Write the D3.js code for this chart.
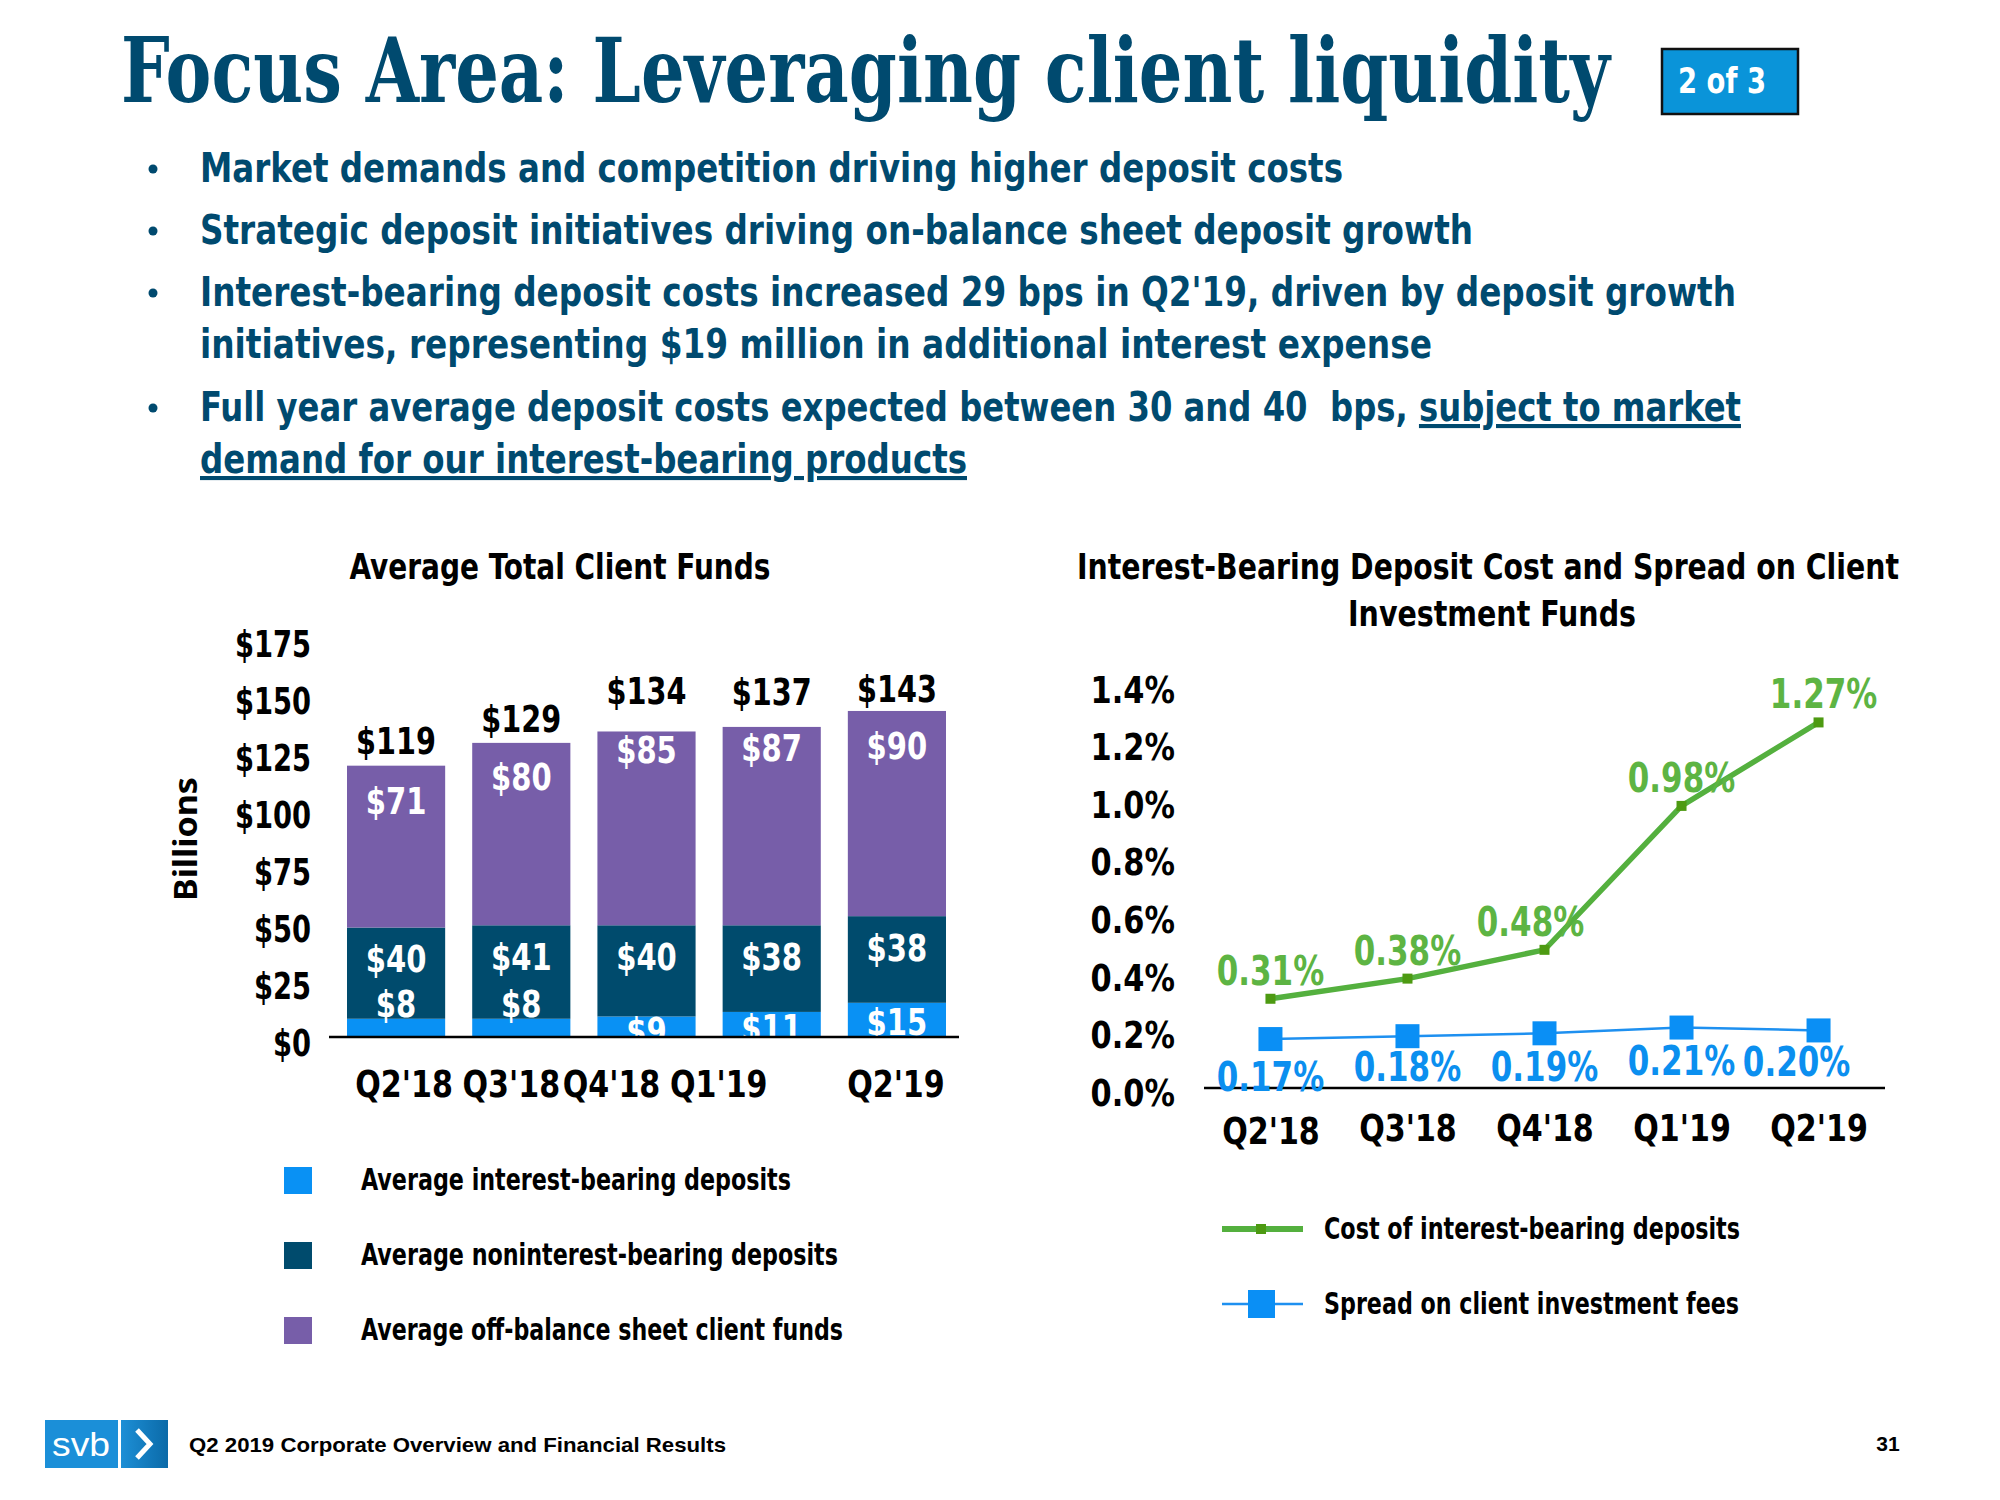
<!DOCTYPE html>
<html><head><meta charset="utf-8">
<script src="https://cdn.jsdelivr.net/npm/d3@7"></script>
<style>html,body{margin:0;padding:0;background:#fff;} svg{display:block}</style>
</head><body>
<svg id="c" width="2000" height="1500" xmlns="http://www.w3.org/2000/svg"></svg>
<script>
// ---------------- DATA ----------------
const quarters = ["Q2'18", "Q3'18", "Q4'18", "Q1'19", "Q2'19"];
const interestBearing = [8, 8, 9, 11, 15];
const nonInterestBearing = [40, 41, 40, 38, 38];
const offBalance = [71, 80, 85, 87, 90];
const totalFunds = [119, 129, 134, 137, 143];
const fundTicks = [0, 25, 50, 75, 100, 125, 150, 175];
const depositCost = [0.31, 0.38, 0.48, 0.98, 1.27];
const investmentSpread = [0.17, 0.18, 0.19, 0.21, 0.20];
const rateTicks = [0, 0.2, 0.4, 0.6, 0.8, 1.0, 1.2, 1.4];
const fundSeries = ["Average interest-bearing deposits", "Average noninterest-bearing deposits", "Average off-balance sheet client funds"];
const rateSeries = ["Cost of interest-bearing deposits", "Spread on client investment fees"];
const titleText = "Focus Area: Leveraging client liquidity";
const pageTag = "2 of 3";
const bulletLines = [
  [{t: "Market demands and competition driving higher deposit costs"}],
  [{t: "Strategic deposit initiatives driving on-balance sheet deposit growth"}],
  [{t: "Interest-bearing deposit costs increased 29 bps in Q2'19, driven by deposit growth"}],
  [{t: "initiatives, representing $19 million in additional interest expense"}],
  [{t: "Full year average deposit costs expected between 30 and 40  bps, "}, {t: "subject to market", u: true}],
  [{t: "demand for our interest-bearing products", u: true}]
];
const bulletStarts = [true, true, true, false, true, false];
const leftTitle = "Average Total Client Funds";
const rightTitle = ["Interest-Bearing Deposit Cost and Spread on Client", "Investment Funds"];
const yAxisTitle = "Billions";
const footerText = "Q2 2019 Corporate Overview and Financial Results";
const pageNumber = "31";

// ---------------- LAYOUT / STYLE ----------------
const svg = d3.select("#c");
const NAVY = "#004a6f";
const C_IB = "#0991f4", C_NIB = "#004b6d", C_OFF = "#775ea9";
const C_GREEN = "#54b03e", C_GREEN_MK = "#4d9a12", C_GREEN_TX = "#5db443";
const C_BLUE = "#1e90f0", C_BLUE_MK = "#0a8ff5", C_BLUE_TX = "#0b8fef";

function measure(family, stretch, txt) {
  const t = svg.append("text").attr("font-family", family).style("font-stretch", stretch)
    .attr("font-weight", "bold").attr("font-size", 100).text(txt);
  const l = t.node().getComputedTextLength(); t.remove(); return l;
}
const sample = "Market demands and competition 0123456789";
let COND;
if (measure("'Noto Sans'", "condensed", sample) < 0.9 * measure("'Noto Sans'", "normal", sample)) {
  COND = {family: "'Noto Sans', sans-serif", stretch: "condensed"};
} else if (measure("'Liberation Sans Narrow'", "normal", sample) < 0.9 * measure("'Liberation Sans'", "normal", sample)) {
  COND = {family: "'Liberation Sans Narrow', sans-serif", stretch: "normal"};
} else {
  COND = {family: "'DejaVu Sans', sans-serif", stretch: "condensed"};
}
function cond(sel, size) {
  return sel.attr("font-family", COND.family).style("font-stretch", COND.stretch)
    .attr("font-weight", "bold").attr("font-size", size);
}
// narrow the glyphs of short labels to the reference's proportions
function squeeze(sel, k) {
  sel.each(function () {
    const l = this.getComputedTextLength();
    d3.select(this).attr("textLength", l * k).attr("lengthAdjust", "spacingAndGlyphs");
  });
}

// ---------------- HEADER ----------------
svg.append("text").attr("x", 121).attr("y", 102)
  .attr("font-family", "'DejaVu Serif', serif").style("font-stretch", "condensed")
  .attr("font-weight", "bold").attr("font-size", 90).attr("fill", NAVY)
  .attr("textLength", 1489).attr("lengthAdjust", "spacingAndGlyphs").text(titleText);

svg.append("rect").attr("x", 1662).attr("y", 49).attr("width", 136).attr("height", 65)
  .attr("fill", "#0a94d9").attr("stroke", "#111").attr("stroke-width", 2.5);
cond(svg.append("text"), 36).attr("x", 1722).attr("y", 93).attr("text-anchor", "middle")
  .attr("fill", "#fff").attr("textLength", 88).attr("lengthAdjust", "spacingAndGlyphs").text(pageTag);

// bullets
const bulletY = [182, 244, 306, 358, 421, 473];
const bulletEnd = [1343, 1473, 1736, 1432, 1741, 967];
bulletLines.forEach((segs, i) => {
  if (bulletStarts[i]) {
    svg.append("circle").attr("cx", 153).attr("cy", bulletY[i] - 13).attr("r", 4.5).attr("fill", NAVY);
  }
  const t = cond(svg.append("text"), 41).attr("x", 200).attr("y", bulletY[i]).attr("fill", NAVY)
    .style("white-space", "pre")
    .attr("textLength", bulletEnd[i] - 200).attr("lengthAdjust", "spacingAndGlyphs");
  segs.forEach(s => {
    const ts = t.append("tspan").text(s.t);
    if (s.u) ts.style("text-decoration", "underline");
  });
});

// ---------------- LEFT CHART ----------------
const gL = svg.append("g");
cond(gL.append("text"), 36).attr("x", 560).attr("y", 579).attr("text-anchor", "middle").attr("fill", "#000")
  .attr("textLength", 421).attr("lengthAdjust", "spacingAndGlyphs").text(leftTitle);

const xB = d3.scaleBand().domain(quarters).range([347, 946]).paddingInner(0.216).paddingOuter(0);
const yB = d3.scaleLinear().domain([0, 175]).range([1037, 638]);

const stackData = quarters.map((q, i) => ({q, ib: interestBearing[i], nib: nonInterestBearing[i], off: offBalance[i]}));
const stacked = d3.stack().keys(["ib", "nib", "off"])(stackData);
const segColors = [C_IB, C_NIB, C_OFF];
gL.selectAll("g.layer").data(stacked).join("g").attr("class", "layer")
  .attr("fill", (d, i) => segColors[i])
  .selectAll("rect").data(d => d).join("rect")
  .attr("x", d => xB(d.data.q)).attr("width", xB.bandwidth())
  .attr("y", d => yB(d[1])).attr("height", d => yB(d[0]) - yB(d[1]));

// segment labels (offsets of label centre from segment top, px)
const segLabelOffset = [[-15, -15, 15, 16, 19], [31, 32, 32, 32, 32], [35, 34, 19, 21, 35]];
const segValues = [interestBearing, nonInterestBearing, offBalance];
stacked.forEach((layer, li) => {
  gL.selectAll(null).data(layer).join("text")
    .call(s => cond(s, 38))
    .attr("fill", "#fff").attr("text-anchor", "middle")
    .attr("x", d => xB(d.data.q) + xB.bandwidth() / 2)
    .attr("y", (d, i) => yB(d[1]) + segLabelOffset[li][i] + 13)
    .text((d, i) => "$" + segValues[li][i])
    .call(s => squeeze(s, 0.85));
});
// totals
const totalOffset = [-25, -24, -40, -33, -22];
gL.selectAll(null).data(totalFunds).join("text")
  .call(s => cond(s, 38))
  .attr("fill", "#000").attr("text-anchor", "middle")
  .attr("x", (d, i) => xB(quarters[i]) + xB.bandwidth() / 2)
  .attr("y", (d, i) => yB(d) + totalOffset[i] + 13)
  .text(d => "$" + d)
  .call(s => squeeze(s, 0.84));

// y axis labels
const axL = gL.append("g").attr("transform", "translate(311,6)")
  .call(d3.axisLeft(yB).tickValues(fundTicks).tickFormat(d => "$" + d).tickSize(0).tickPadding(0));
axL.select(".domain").remove();
axL.selectAll("text").call(s => cond(s, 38)).attr("fill", "#000").call(s => squeeze(s, 0.8));

// x axis
const xNudge = [8, -10, -35, -53, -1];
const axB = gL.append("g").attr("transform", "translate(0,1037)")
  .call(d3.axisBottom(xB).tickSize(0).tickPadding(33));
axB.select(".domain").remove();
axB.selectAll("text").call(s => cond(s, 38)).attr("fill", "#000")
  .attr("dx", (d, i) => xNudge[i]).call(s => squeeze(s, 0.88));
gL.append("line").attr("x1", 329).attr("x2", 959).attr("y1", 1037).attr("y2", 1037)
  .attr("stroke", "#000").attr("stroke-width", 2.5);

// Billions
gL.append("text").attr("transform", "translate(197,839) rotate(-90)").attr("text-anchor", "middle")
  .attr("font-family", "'Noto Sans', 'Liberation Sans', sans-serif").attr("font-weight", "bold")
  .attr("font-size", 32).attr("fill", "#000")
  .attr("textLength", 124).attr("lengthAdjust", "spacingAndGlyphs").text(yAxisTitle);

// left legend
const legColors = [C_IB, C_NIB, C_OFF];
const legY = [1180, 1255, 1330];
const legW = [430, 477, 482];
fundSeries.forEach((name, i) => {
  gL.append("rect").attr("x", 284).attr("y", legY[i] - 13).attr("width", 28).attr("height", 27).attr("fill", legColors[i]);
  cond(gL.append("text"), 30).attr("x", 361).attr("y", legY[i] + 10).attr("fill", "#000")
    .attr("textLength", legW[i]).attr("lengthAdjust", "spacingAndGlyphs").text(name);
});

// ---------------- RIGHT CHART ----------------
const gR = svg.append("g");
rightTitle.forEach((line, i) => {
  cond(gR.append("text"), 36).attr("x", i === 0 ? 1488 : 1492).attr("y", 579 + i * 47)
    .attr("text-anchor", "middle").attr("fill", "#000")
    .attr("textLength", i === 0 ? 822 : 288).attr("lengthAdjust", "spacingAndGlyphs").text(line);
});

const xR = d3.scalePoint().domain(quarters).range([1204, 1885]).padding(0.485);
const yR = d3.scaleLinear().domain([0, 1.4]).range([1088, 685]);

const axRL = gR.append("g").attr("transform", "translate(1175,5)")
  .call(d3.axisLeft(yR).tickValues(rateTicks).tickFormat(d => d3.format(".1f")(d) + "%").tickSize(0).tickPadding(0));
axRL.select(".domain").remove();
axRL.selectAll("text").call(s => cond(s, 38)).attr("fill", "#000").call(s => squeeze(s, 0.89));

const axRB = gR.append("g").attr("transform", "translate(0,1088)")
  .call(d3.axisBottom(xR).tickSize(0).tickPadding(18));
axRB.select(".domain").remove();
axRB.selectAll("text").call(s => cond(s, 38)).attr("fill", "#000")
  .attr("dy", (d, i) => i === 0 ? "1.0em" : "0.92em").call(s => squeeze(s, 0.88));

const line = d3.line().x((d, i) => xR(quarters[i])).y(d => yR(d));
gR.append("path").datum(investmentSpread).attr("d", line).attr("fill", "none")
  .attr("stroke", C_BLUE).attr("stroke-width", 2.5);
gR.append("path").datum(depositCost).attr("d", line).attr("fill", "none")
  .attr("stroke", C_GREEN).attr("stroke-width", 5.5);

gR.selectAll(null).data(investmentSpread).join("rect")
  .attr("x", (d, i) => xR(quarters[i]) - 12).attr("y", d => yR(d) - 12)
  .attr("width", 24).attr("height", 24).attr("fill", C_BLUE_MK);
gR.selectAll(null).data(depositCost).join("rect")
  .attr("x", (d, i) => xR(quarters[i]) - 5).attr("y", d => yR(d) - 5)
  .attr("width", 10).attr("height", 10).attr("fill", C_GREEN_MK);

gR.append("line").attr("x1", 1204).attr("x2", 1885).attr("y1", 1088).attr("y2", 1088)
  .attr("stroke", "#000").attr("stroke-width", 2.5);

const greenDx = [0, 0, -14, 0, 5];
gR.selectAll(null).data(depositCost).join("text").call(s => cond(s, 40))
  .attr("fill", C_GREEN_TX).attr("text-anchor", "middle")
  .attr("x", (d, i) => xR(quarters[i]) + greenDx[i]).attr("y", d => yR(d) - 28 + 14)
  .text(d => d3.format(".2f")(d) + "%").call(s => squeeze(s, 0.86));
const blueDx = [0, 0, 0, 0, -22];
const blueDy = [38, 31, 34, 33, 32];
gR.selectAll(null).data(investmentSpread).join("text").call(s => cond(s, 40))
  .attr("fill", C_BLUE_TX).attr("text-anchor", "middle")
  .attr("x", (d, i) => xR(quarters[i]) + blueDx[i]).attr("y", (d, i) => yR(d) + blueDy[i] + 14)
  .text(d => d3.format(".2f")(d) + "%").call(s => squeeze(s, 0.86));

// right legend
const rLegY = [1229, 1304];
const rLegW = [416, 415];
gR.append("line").attr("x1", 1222).attr("x2", 1303).attr("y1", rLegY[0]).attr("y2", rLegY[0])
  .attr("stroke", C_GREEN).attr("stroke-width", 6);
gR.append("rect").attr("x", 1256).attr("y", rLegY[0] - 5).attr("width", 10).attr("height", 10).attr("fill", C_GREEN_MK);
gR.append("line").attr("x1", 1222).attr("x2", 1303).attr("y1", rLegY[1]).attr("y2", rLegY[1])
  .attr("stroke", C_BLUE).attr("stroke-width", 2.5);
gR.append("rect").attr("x", 1248).attr("y", rLegY[1] - 14).attr("width", 27).attr("height", 28).attr("fill", C_BLUE_MK);
rateSeries.forEach((name, i) => {
  cond(gR.append("text"), 30).attr("x", 1324).attr("y", rLegY[i] + 10).attr("fill", "#000")
    .attr("textLength", rLegW[i]).attr("lengthAdjust", "spacingAndGlyphs").text(name);
});

// ---------------- FOOTER ----------------
const defs = svg.append("defs");
const grad = defs.append("linearGradient").attr("id", "lg").attr("x1", 0).attr("x2", 1);
grad.append("stop").attr("offset", 0).attr("stop-color", "#1d8fd6");
grad.append("stop").attr("offset", 1).attr("stop-color", "#0b6aa8");
svg.append("rect").attr("x", 45).attr("y", 1420).attr("width", 73).attr("height", 48).attr("fill", "#1b8fd8");
svg.append("rect").attr("x", 121).attr("y", 1420).attr("width", 47).attr("height", 48).attr("fill", "url(#lg)");
svg.append("text").attr("x", 81).attr("y", 1456).attr("text-anchor", "middle")
  .attr("font-family", "'Liberation Sans', sans-serif").attr("font-size", 33).attr("fill", "#fff")
  .attr("textLength", 58).attr("lengthAdjust", "spacingAndGlyphs").text("svb");
svg.append("path").attr("d", "M137,1430 L150,1444 L137,1458").attr("fill", "none")
  .attr("stroke", "#fff").attr("stroke-width", 5);
svg.append("text").attr("x", 189).attr("y", 1452)
  .attr("font-family", "'Liberation Sans', Arial, sans-serif").attr("font-weight", "bold").attr("font-size", 21)
  .attr("fill", "#000").attr("textLength", 537).attr("lengthAdjust", "spacingAndGlyphs").text(footerText);
svg.append("text").attr("x", 1888).attr("y", 1451).attr("text-anchor", "middle")
  .attr("font-family", "'Liberation Sans', Arial, sans-serif").attr("font-weight", "bold").attr("font-size", 21)
  .attr("fill", "#000").text(pageNumber);
</script>
</body></html>
